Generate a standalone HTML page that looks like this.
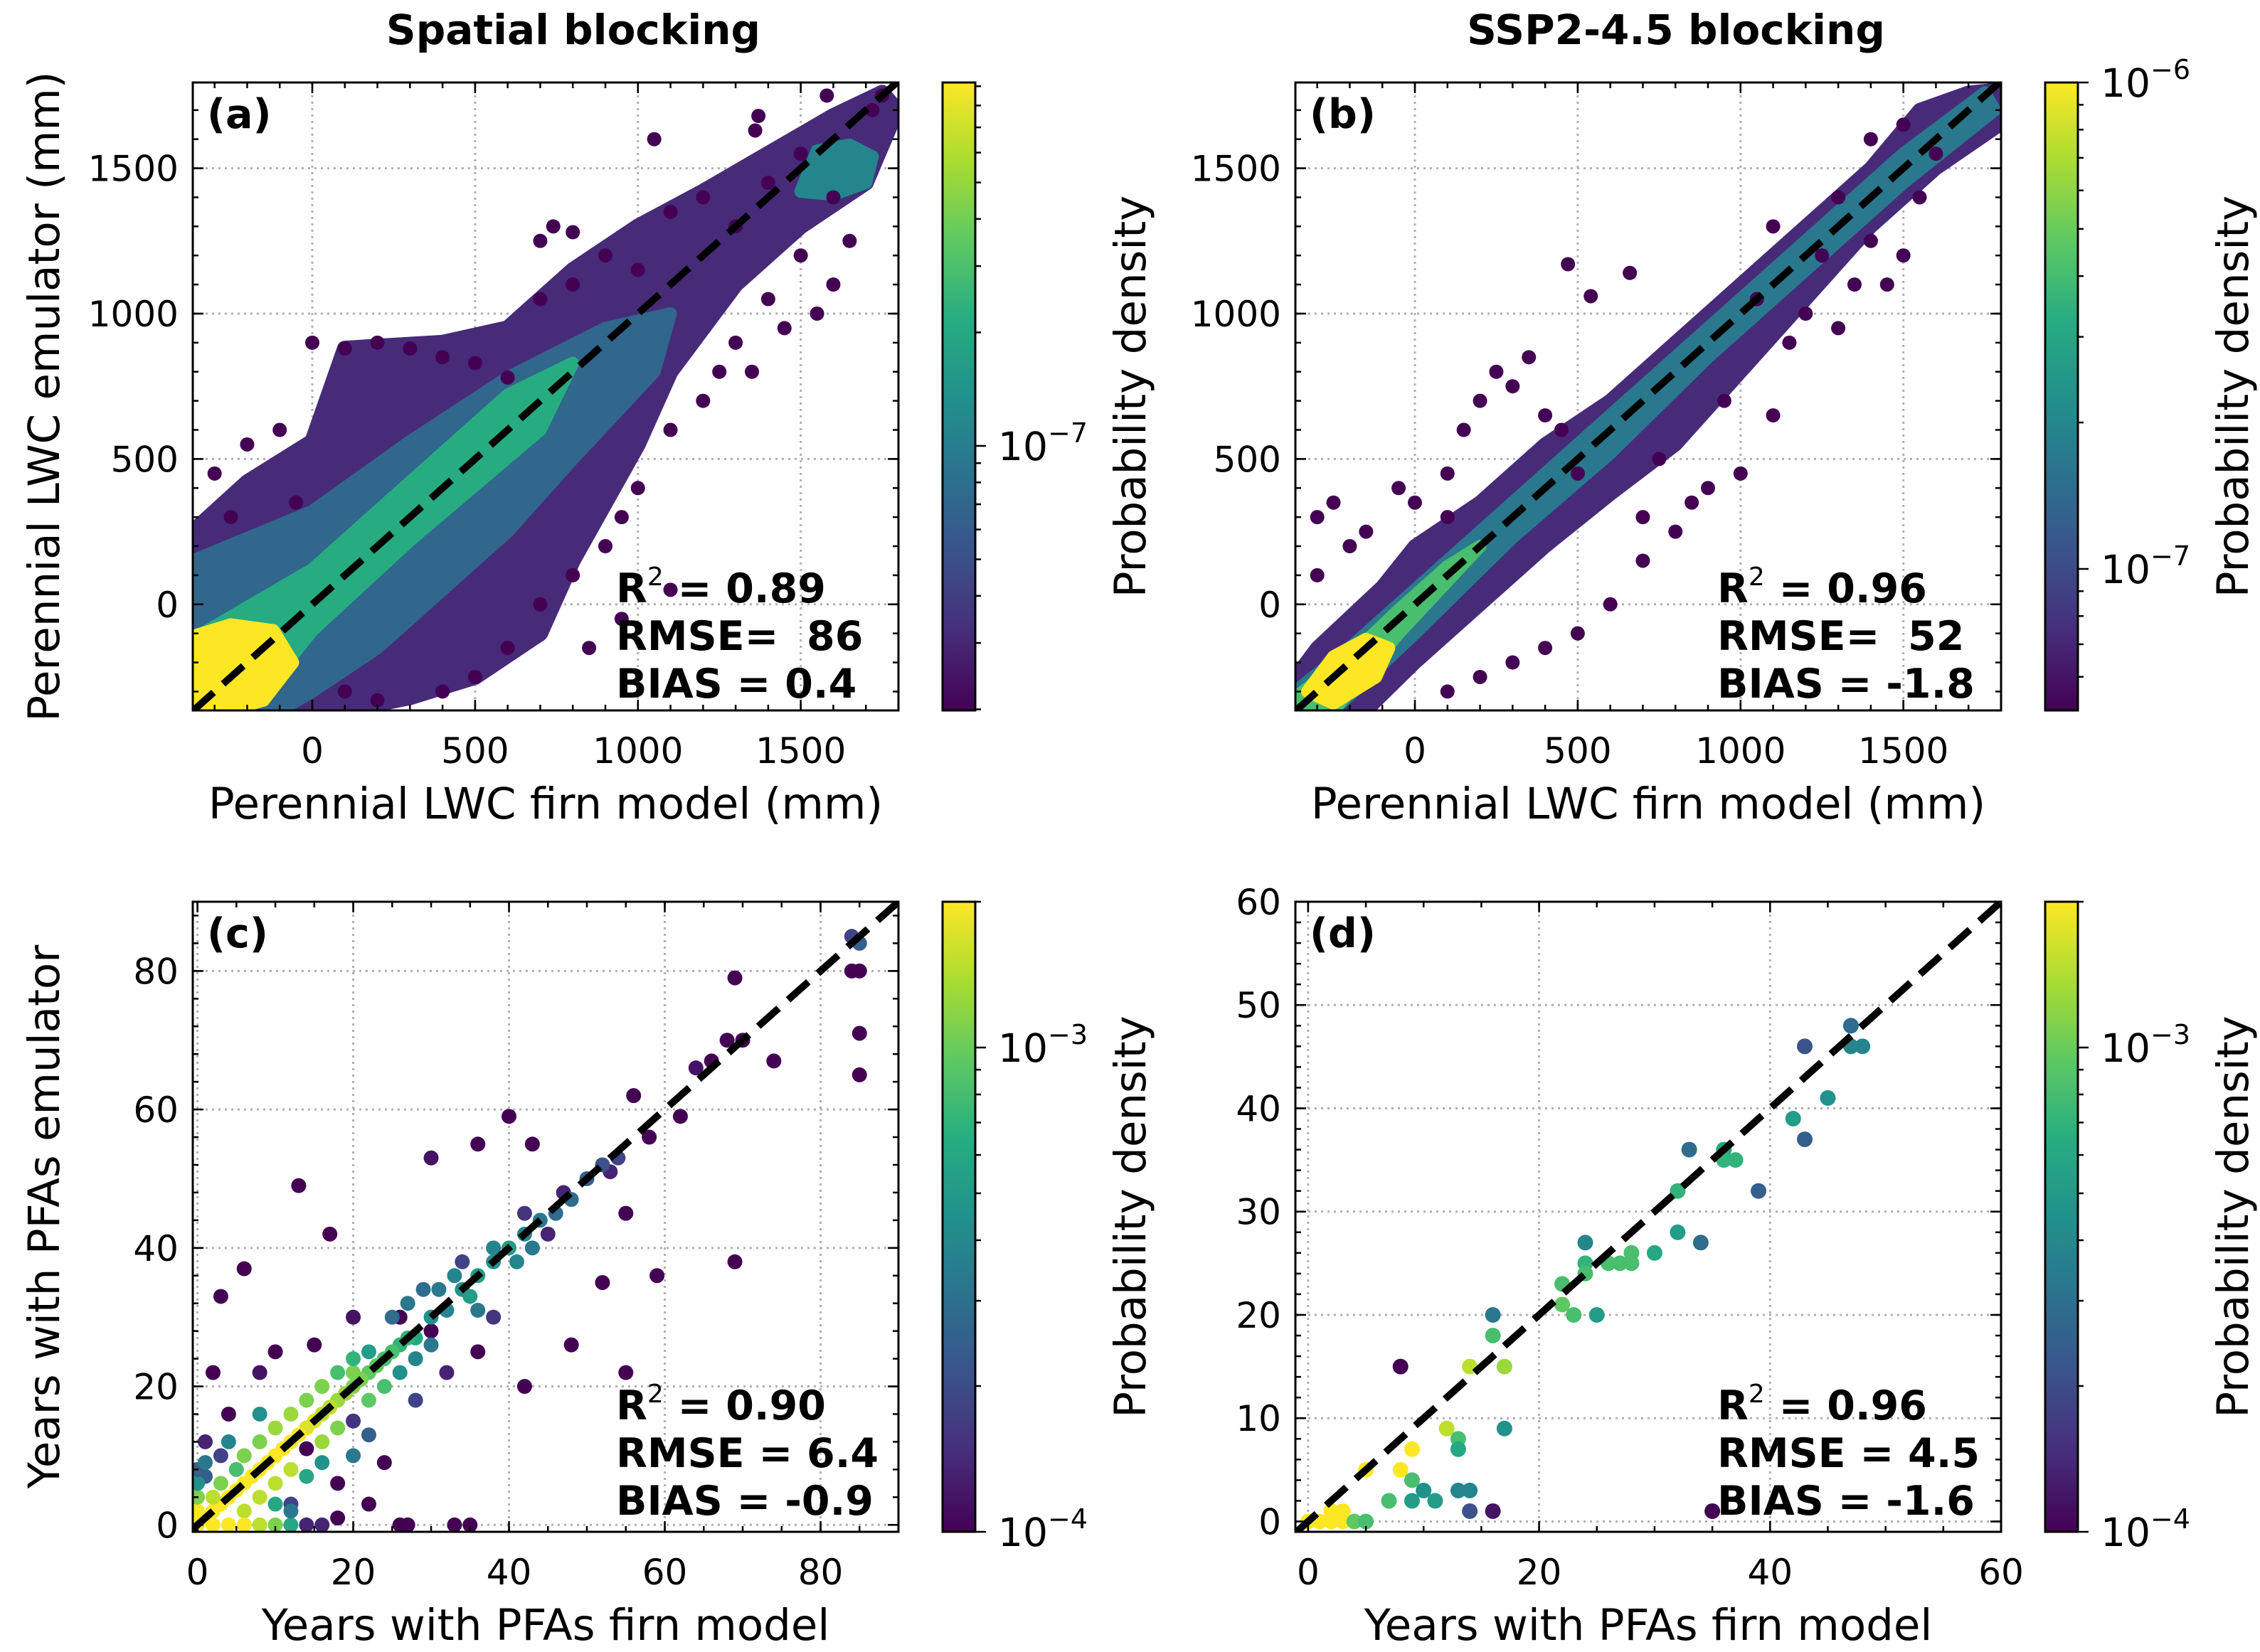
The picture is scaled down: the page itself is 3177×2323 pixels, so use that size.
<!DOCTYPE html>
<html><head><meta charset="utf-8">
<style>
html,body{margin:0;padding:0;background:#fff;}
svg{display:block;font-family:"DejaVu Sans","Liberation Sans",sans-serif;}
</style></head>
<body>
<svg id="fig" width="3177" height="2323" viewBox="0 0 3177 2323" xmlns="http://www.w3.org/2000/svg">
<defs>
<linearGradient id="viridis" x1="0" y1="1" x2="0" y2="0">
<stop offset="0" stop-color="#440154"/><stop offset="0.125" stop-color="#472d7b"/><stop offset="0.25" stop-color="#3b528b"/><stop offset="0.375" stop-color="#2c728e"/><stop offset="0.5" stop-color="#21918c"/><stop offset="0.625" stop-color="#27ad81"/><stop offset="0.75" stop-color="#5ec962"/><stop offset="0.875" stop-color="#aadc32"/><stop offset="1" stop-color="#fde725"/>
</linearGradient>
</defs>
<text x="806" y="62" font-size="58" font-weight="bold" text-anchor="middle">Spatial blocking</text>
<text x="2356" y="62" font-size="58" font-weight="bold" text-anchor="middle">SSP2-4.5 blocking</text>
</svg>
<script>
// ---------- DATA ----------
const aCloudOuter = [[-367,-365],[-367,250],[-200,420],[0,560],[100,880],[400,900],[600,950],[800,1150],[1000,1300],[1200,1420],[1400,1550],[1600,1680],[1750,1760],[1795,1700],[1700,1450],[1500,1300],[1300,1100],[1100,800],[1000,550],[900,350],[800,150],[700,-100],[500,-250],[300,-320],[100,-365]];
const aCloudMid = [[-367,-365],[-367,150],[0,320],[300,560],[600,780],[900,950],[1100,1000],[1050,800],[800,500],[600,250],[400,50],[200,-150],[0,-300],[-100,-365]];
const aCloudGreen = [[-367,-120],[0,120],[300,420],[600,720],[800,830],[700,600],[300,220],[0,-90],[-150,-300],[-300,-365]];
const aCloudYellow = [[-367,-365],[-367,-110],[-250,-70],[-120,-90],[-60,-200],[-150,-330],[-260,-365]];
const aCloudTop = [[1500,1420],[1550,1560],[1650,1580],[1720,1540],[1700,1450],[1600,1410]];
const aOutliers = [[1580,1750],[1050,1600],[1370,1680],[1360,1630],[1720,1700],[1750,1750],[1600,1400],[1600,1100],[1500,1200],[1400,1050],[1300,900],[1200,700],[1100,600],[1000,400],[950,300],[900,200],[800,100],[700,0],[600,-150],[500,-250],[400,-300],[200,-330],[100,-300],[700,1250],[740,1300],[800,1280],[-300,450],[-200,550],[-100,600],[-250,300],[-50,350],[0,900],[100,880],[200,900],[300,880],[400,850],[500,830],[600,780],[700,1050],[800,1100],[900,1200],[1000,1150],[1100,1350],[1200,1400],[1300,1300],[1400,1450],[1500,1550],[1450,950],[1100,50],[950,-50],[850,-150],[1250,800],[1350,800],[1650,1250],[1550,1000]];
const bCloudOuter = [[-367,-365],[-367,-250],[-300,-150],[-100,60],[0,200],[200,350],[400,550],[600,700],[800,900],[1000,1100],[1200,1300],[1400,1500],[1550,1700],[1700,1760],[1795,1770],[1795,1650],[1600,1500],[1400,1300],[1200,1050],[1000,800],[800,550],[600,380],[400,200],[200,0],[0,-200],[-150,-365]];
const bCloudMid = [[-367,-365],[-367,-300],[-200,-150],[0,50],[300,350],[600,650],[900,950],[1200,1250],[1500,1550],[1750,1760],[1780,1700],[1500,1450],[1200,1150],[900,850],[600,520],[300,230],[0,-100],[-250,-365]];
const bCloudGreen = [[-367,-365],[-367,-320],[-200,-180],[-50,-20],[100,130],[200,200],[100,80],[-50,-100],[-250,-365]];
const bCloudYellow = [[-330,-300],[-250,-180],[-150,-120],[-80,-150],[-120,-250],[-250,-340]];
const bOutliers = [[470,1170],[660,1140],[540,1060],[-50,400],[0,350],[100,450],[150,600],[250,800],[300,750],[200,700],[350,850],[100,300],[-150,250],[-200,200],[-300,100],[400,650],[450,600],[500,450],[700,300],[800,250],[900,400],[1000,450],[1100,650],[1150,900],[1200,1000],[1250,1200],[1300,950],[1350,1100],[1450,1100],[1500,1200],[1400,1250],[1550,1400],[1600,1550],[1300,1400],[1100,1300],[700,150],[600,0],[500,-100],[400,-150],[300,-200],[200,-250],[100,-300],[750,500],[850,350],[950,700],[1050,1050],[1400,1600],[1500,1650],[-300,300],[-250,350]];
const cX = [84,85,84,85,85,85,69,68,70,74,66,64,56,62,58,40,43,36,30,53,55,13,17,6,3,59,69,55,48,42,52,36,26,30,10,8,2,4,14,18,22,24,26,27,33,35,18,16,14,12,20,28,32,38,45,47,42,34,20,15,3,1,1,
30,32,34,36,38,40,42,44,46,48,50,52,54,41,43,38,35,33,31,36,28,26,24,22,20,18,16,14,12,10,8,6,4,2,0,1,3,5,7,9,11,13,15,17,19,21,23,25,27,24,22,20,18,16,12,10,8,6,4,2,6,8,10,12,5,3,2,0,0,0,0,1,6,8,10,12,14,16,18,20,22,14,16,10,12,20,22,26,28,30,25,27,29,8,4];
const cY = [85,84,80,80,71,65,79,70,70,67,67,66,62,59,56,59,55,55,53,51,45,49,42,37,33,36,38,22,26,20,35,25,30,28,25,22,22,16,11,6,3,9,0,0,0,0,1,0,0,3,15,18,22,30,42,48,45,38,30,26,10,12,7,
30,31,34,36,38,40,42,44,45,47,50,52,53,38,40,40,33,36,34,31,27,26,24,22,20,18,16,14,12,10,8,6,4,2,0,1,3,5,7,9,11,13,15,17,19,21,23,25,27,20,18,22,14,12,8,6,4,2,0,0,0,0,0,0,8,6,4,2,4,6,8,9,10,12,14,16,18,20,22,24,25,7,9,3,2,10,13,22,24,26,30,32,34,16,12];
const cD = [0.2,0.3,0,0,0,0,0,0,0,0,0,0.05,0,0,0,0,0,0,0.05,0.1,0,0,0,0,0,0,0,0,0,0,0,0,0,0,0,0.05,0,0,0,0,0,0,0,0,0,0,0,0.1,0.1,0.2,0.15,0.2,0.1,0.15,0.1,0.1,0.15,0.2,0.05,0,0.2,0.1,0.3,
0.5,0.45,0.5,0.55,0.5,0.55,0.45,0.4,0.35,0.35,0.3,0.25,0.2,0.45,0.4,0.45,0.55,0.45,0.4,0.4,0.6,0.65,0.7,0.75,0.8,0.85,0.9,0.95,1,1,1,1,1,1,1,1,1,1,1,1,1,1,0.95,0.9,0.85,0.8,0.75,0.7,0.65,0.7,0.75,0.8,0.8,0.85,0.9,0.9,0.9,0.9,1,1,1,0.9,0.8,0.6,0.7,0.8,0.9,1,0.8,0.5,0.3,0.4,0.8,0.8,0.85,0.85,0.8,0.8,0.7,0.65,0.55,0.6,0.5,0.6,0.4,0.4,0.3,0.5,0.45,0.4,0.35,0.4,0.35,0.5,0.45];
const dX = [47,43,47,48,45,42,43,33,36,36,37,39,32,32,34,30,28,24,24,26,27,28,24,22,22,23,25,16,16,8,14,17,12,17,13,13,9,5,8,9,10,7,9,11,13,14,14,16,35,0,1,2,2,3,3,4,5];
const dY = [48,46,46,46,41,39,37,36,36,35,35,32,32,28,27,26,26,27,25,25,25,25,24,23,21,20,20,20,18,15,15,15,9,9,8,7,7,5,5,4,3,2,2,2,3,3,1,1,1,0,0,0,1,1,0,0,0];
const dD = [0.35,0.25,0.45,0.45,0.5,0.55,0.3,0.35,0.6,0.65,0.65,0.3,0.65,0.55,0.35,0.6,0.7,0.45,0.65,0.7,0.7,0.7,0.7,0.7,0.75,0.7,0.55,0.4,0.7,0,0.9,0.85,0.9,0.5,0.7,0.6,1,1,1,0.7,0.5,0.7,0.55,0.55,0.45,0.45,0.25,0.05,0,1,1,1,1,1,1,0.75,0.7];

// ---------- HELPERS ----------
const NS = 'http://www.w3.org/2000/svg';
const svg = document.getElementById('fig');
const stops = [[0,[68,1,84]],[0.125,[71,45,123]],[0.25,[59,82,139]],[0.375,[44,114,142]],[0.5,[33,145,140]],[0.625,[39,173,129]],[0.75,[94,201,98]],[0.875,[170,220,50]],[1,[253,231,37]]];
function viridis(t){t=Math.max(0,Math.min(1,t));for(let i=1;i<stops.length;i++){if(t<=stops[i][0]){const a=stops[i-1],b=stops[i];const f=(t-a[0])/(b[0]-a[0]);const c=a[1].map((v,k)=>Math.round(v+(b[1][k]-v)*f));return `rgb(${c[0]},${c[1]},${c[2]})`;}}return 'rgb(253,231,37)';}
function mk(tag, attrs, parent){const e=document.createElementNS(NS,tag);for(const k in attrs)e.setAttribute(k,attrs[k]);(parent||svg).appendChild(e);return e;}

function panel(cfg){
  const {L,R,T,B,xlim,ylim} = cfg;
  const sx = v => L + (v - xlim[0])/(xlim[1]-xlim[0])*(R-L);
  const sy = v => B - (v - ylim[0])/(ylim[1]-ylim[0])*(B-T);
  const g = mk('g',{});
  
  
  const cid = 'clip-' + cfg.id;
  const cp = mk('clipPath',{id:cid}, g); mk('rect',{x:L,y:T,width:R-L,height:B-T},cp);
  cfg.xt.forEach(v=>{const l=mk('line',{x1:sx(v),x2:sx(v),y1:T,y2:B,stroke:'#b0b0b0','stroke-width':3,'stroke-dasharray':'3,6'},g);
    
    });
  cfg.yt.forEach(v=>{const l=mk('line',{y1:sy(v),y2:sy(v),x1:L,x2:R,stroke:'#b0b0b0','stroke-width':3,'stroke-dasharray':'3,6'},g);
    
    });
  const dg = mk('g',{'clip-path':`url(#${cid})`},g);
  
  
  (cfg.clouds||[]).forEach(cl=>{
    const pts = cl.pts.map(p=>sx(p[0])+','+sy(p[1])).join(' ');
    const pg = mk('polygon',{points:pts,fill:viridis(cl.d),stroke:viridis(cl.d),'stroke-width':cl.sw||18,'stroke-linejoin':'round'},dg);
    
    
  });
  (cfg.pts||[]).forEach(p=>{
    const c = mk('circle',{cx:sx(p[0]),cy:sy(p[1]),r:cfg.r,fill:viridis(p[2])},dg);
    
    
  });
  const lo = Math.max(xlim[0],ylim[0]), hi = Math.min(xlim[1],ylim[1]);
  const ln = mk('line',{x1:sx(lo),y1:sy(lo),x2:sx(hi),y2:sy(hi),stroke:'#000','stroke-width':10,'stroke-dasharray':'38,18'},dg);
  
  
  const tk = (x1,y1,x2,y2)=>mk('line',{x1,y1,x2,y2,stroke:'#000','stroke-width':2.5},g);
  for(let v=cfg.xmin0; v<=xlim[1]; v+=cfg.xminor){ if(v<xlim[0])continue; tk(sx(v),B,sx(v),B-8); tk(sx(v),T,sx(v),T+8);}
  for(let v=cfg.ymin0; v<=ylim[1]; v+=cfg.yminor){ if(v<ylim[0])continue; tk(L,sy(v),L+8,sy(v)); tk(R,sy(v),R-8,sy(v));}
  cfg.xt.forEach(v=>{tk(sx(v),B,sx(v),B-15);tk(sx(v),T,sx(v),T+15);
    const t=mk('text',{x:sx(v),y:B+74,'font-size':50,'text-anchor':'middle'},g);t.textContent=v;
    
    });
  cfg.yt.forEach(v=>{tk(L,sy(v),L+15,sy(v));tk(R,sy(v),R-15,sy(v));
    const t=mk('text',{x:L-20,y:sy(v)+18,'font-size':50,'text-anchor':'end'},g);t.textContent=v;
    
    });
  mk('rect',{x:L,y:T,width:R-L,height:B-T,fill:'none',stroke:'#000','stroke-width':3},g);
  const xl=mk('text',{x:(L+R)/2,y:B+152,'font-size':61,'text-anchor':'middle'},g);xl.textContent=cfg.xlabel;
  
  
  if(cfg.ylabel){const yl=mk('text',{x:0,y:0,'font-size':61,'text-anchor':'middle',transform:`translate(${L-188},${(T+B)/2}) rotate(-90)`},g);yl.textContent=cfg.ylabel;
    
    }
  const pl=mk('text',{x:L+20,y:T+64,'font-size':57,'font-weight':'bold'},g);pl.textContent=cfg.tag;
  
  
  const st=mk('text',{x:cfg.sx,y:cfg.sy,'font-size':57,'font-weight':'bold'},g);
  
  
  st.innerHTML = `<tspan x="${cfg.sx}">R<tspan font-size="36" font-weight="normal" dy="-24">2</tspan><tspan dy="24"> = ${cfg.stats[0]}</tspan></tspan><tspan x="${cfg.sx}" dy="67" xml:space="preserve">${cfg.stats[1]}</tspan><tspan x="${cfg.sx}" dy="67">${cfg.stats[2]}</tspan>`;
  const cb=cfg.cb;
  const cg=mk('g',{},g);
  
  
  mk('rect',{x:cb.x,y:T,width:46,height:B-T,fill:'url(#viridis)',stroke:'#000','stroke-width':3},cg);
  const cpos = lv => cb.ref - (lv - cb.refExp)*cb.D;
  for(let e=cb.refExp-2;e<=cb.refExp+1;e++){for(let m=1;m<10;m++){const y=cpos(e+Math.log10(m));if(y<T-1||y>B+1)continue;
    const len = m===1?15:8; mk('line',{x1:cb.x+46,x2:cb.x+46+len,y1:y,y2:y,stroke:'#000','stroke-width':2.5},cg);}}
  cb.labels.forEach(e=>{const y=cpos(e);const t=mk('text',{x:cb.x+78,y:y+20,'font-size':55},cg);
    t.innerHTML=`10<tspan font-size="38" dy="-25">−${-e}</tspan>`;
    
    });
  const ct=mk('text',{x:0,y:0,'font-size':61,'text-anchor':'middle',transform:`translate(${cb.x+285},${(T+B)/2}) rotate(-90)`},cg);ct.textContent='Probability density';
  
  
}

const lwcLim=[-367,1800], lwcYLim=[-365,1795];
panel({id:'panel-a',tag:'(a)',L:271,R:1263,T:116,B:999,xlim:lwcLim,ylim:lwcYLim,xt:[0,500,1000,1500],yt:[0,500,1000,1500],xmin0:-300,xminor:100,ymin0:-300,yminor:100,
  xlabel:'Perennial LWC firn model (mm)',ylabel:'Perennial LWC emulator (mm)',r:10,
  clouds:[{pts:aCloudOuter,d:0.12,sw:22},{pts:aCloudMid,d:0.33},{pts:aCloudGreen,d:0.62},{pts:aCloudYellow,d:1},{pts:aCloudTop,d:0.45}],
  pts:aOutliers.map(p=>[p[0],p[1],0]),sx:866,sy:847,stats:['0.89','RMSE=  86','BIAS = 0.4'],
  cb:{x:1325,ref:627,refExp:-7,D:530,labels:[-7]}});
panel({id:'panel-b',tag:'(b)',L:1821,R:2813,T:116,B:999,xlim:lwcLim,ylim:lwcYLim,xt:[0,500,1000,1500],yt:[0,500,1000,1500],xmin0:-300,xminor:100,ymin0:-300,yminor:100,
  xlabel:'Perennial LWC firn model (mm)',r:10,
  clouds:[{pts:bCloudOuter,d:0.12,sw:20},{pts:bCloudMid,d:0.4},{pts:bCloudGreen,d:0.7},{pts:bCloudYellow,d:1}],
  pts:bOutliers.map(p=>[p[0],p[1],0]),sx:2414,sy:847,stats:['0.96','RMSE=  52','BIAS = -1.8'],
  cb:{x:2875,ref:800,refExp:-7,D:684,labels:[-6,-7]}});
panel({id:'panel-c',tag:'(c)',L:271,R:1263,T:1268,B:2154,xlim:[-0.6,90],ylim:[-1,90],xt:[0,20,40,60,80],yt:[0,20,40,60,80],xmin0:0,xminor:5,ymin0:0,yminor:4,
  xlabel:'Years with PFAs firn model',ylabel:'Years with PFAs emulator',r:10.5,
  pts:cX.map((x,i)=>[x,cY[i],cD[i]]),sx:866,sy:1996,stats:['0.90','RMSE = 6.4','BIAS = -0.9'],
  cb:{x:1325,ref:1473,refExp:-3,D:681,labels:[-3,-4]}});
panel({id:'panel-d',tag:'(d)',L:1821,R:2813,T:1268,B:2154,xlim:[-1.1,60],ylim:[-1,60],xt:[0,20,40,60],yt:[0,10,20,30,40,50,60],xmin0:0,xminor:5,ymin0:0,yminor:2,
  xlabel:'Years with PFAs firn model',r:11,
  pts:dX.map((x,i)=>[x,dY[i],dD[i]]),sx:2414,sy:1996,stats:['0.96','RMSE = 4.5','BIAS = -1.6'],
  cb:{x:2875,ref:1473,refExp:-3,D:681,labels:[-3,-4]}});
</script>
</body></html>
